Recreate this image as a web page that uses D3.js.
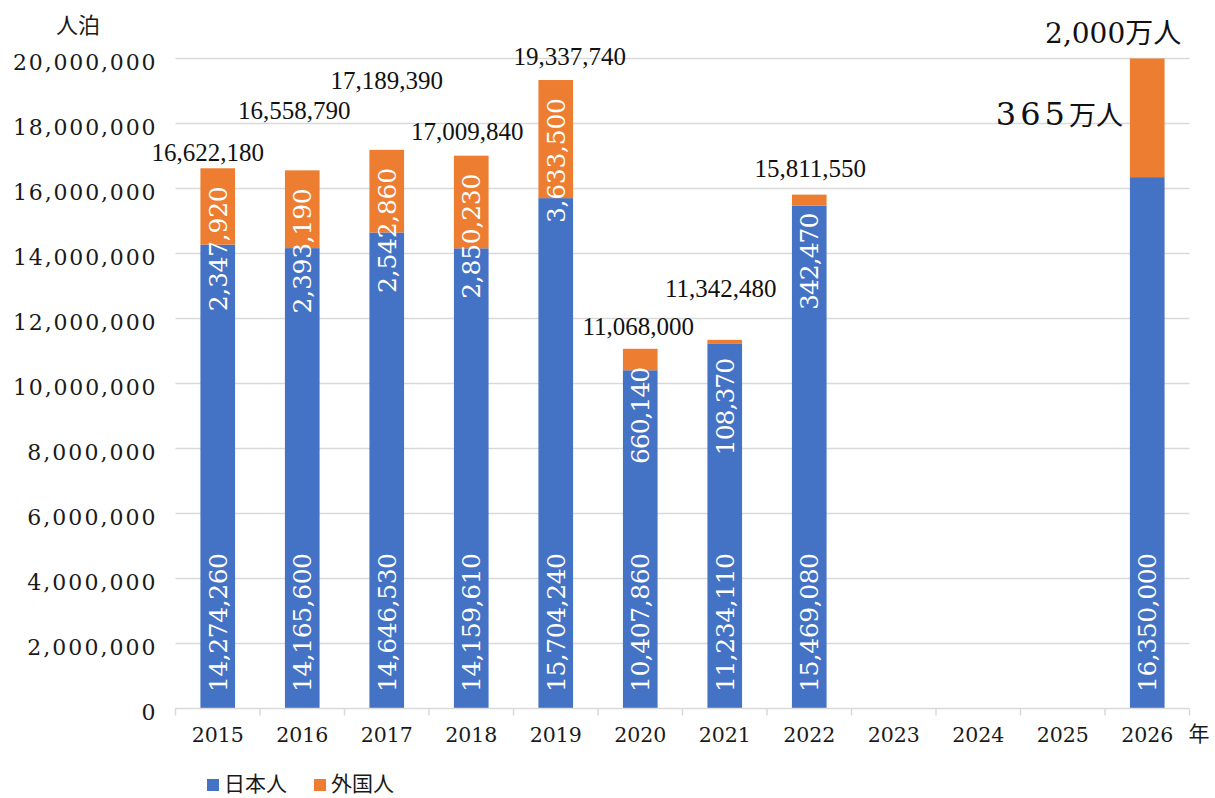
<!DOCTYPE html>
<html>
<head>
<meta charset="utf-8">
<script src="https://cdn.jsdelivr.net/npm/d3@7/dist/d3.min.js"></script>
<style>
  html, body { margin: 0; padding: 0; background: #fff; }
  svg { display: block; }
</style>
</head>
<body>
<svg id="chart" width="1215" height="798"></svg>
<script>
// ---- data ----
const years = ["2015", "2016", "2017", "2018", "2019", "2020", "2021", "2022", "2023", "2024", "2025", "2026"];
const japanese = [14274260, 14165600, 14646530, 14159610, 15704240, 10407860, 11234110, 15469080, null, null, null, 16350000];
const foreign  = [2347920, 2393190, 2542860, 2850230, 3633500, 660140, 108370, 342470, null, null, null, 3650000];
const totalLabels = [16622180, 16558790, 17189390, 17009840, 19337740, 11068000, 11342480, 15811550, null, null, null, null];
const showForeignLabel = [true, true, true, true, true, true, true, true, false, false, false, false];
const yTicks = [0, 2000000, 4000000, 6000000, 8000000, 10000000, 12000000, 14000000, 16000000, 18000000, 20000000];
const targetTotalText = ["2,000", "万人"];
const targetForeignText = ["365", "万人"];
const seriesNames = ["日本人", "外国人"];
const yUnit = "人泊";
const xUnit = "年";

// ---- layout (label nudges for manually placed total labels, px) ----
const totalNudge = [[-10, -7], [-8, -51], [0, -61], [-4, -16], [14, -15.5], [-2, -14], [-4, -43], [1, -18], [0,0],[0,0],[0,0],[0,0]];

const colors = { jp: "#4472C4", fg: "#ED7D31" };
const W = 1215, H = 798;
const m = { left: 175.5, right: 25.5, top: 58.5, bottom: 89.5 };
const svg = d3.select("#chart");
const numFont = "'DejaVu Serif', serif";
const totFont = "'Liberation Serif', 'Times New Roman', serif";
const cjkFont = "'Noto Sans CJK JP', sans-serif";

const x = d3.scaleBand().domain(years).range([m.left, W - m.right]).paddingInner(0.59).paddingOuter(0.295);
const xb = d3.scaleBand().domain(years).range([m.left, W - m.right]); // full category bands
const y = d3.scaleLinear().domain([0, 20000000]).range([H - m.bottom, m.top]);
const fmt = d3.format(",");

// gridlines
svg.append("g").selectAll("line").data(yTicks.filter(d => d > 0)).join("line")
  .attr("x1", m.left).attr("x2", W - m.right)
  .attr("y1", d => y(d)).attr("y2", d => y(d))
  .attr("stroke", "#d9d9d9").attr("stroke-width", 1.5);

// y-axis labels
svg.append("g").selectAll("text").data(yTicks).join("text")
  .attr("x", m.left - 20).attr("y", d => y(d) + 11)
  .attr("text-anchor", "end")
  .attr("font-family", numFont).attr("font-size", 22).attr("fill", "#1a1a1a")
  .attr("textLength", d => fmt(d).length * 14.25).attr("lengthAdjust", "spacing")
  .text(d => fmt(d));

// bars
const data = years.map((yr, i) => ({ yr, i, jp: japanese[i], fg: foreign[i] }));
const g = svg.append("g");
g.selectAll("rect.jp").data(data.filter(d => d.jp != null)).join("rect")
  .attr("class", "jp")
  .attr("x", d => x(d.yr)).attr("width", x.bandwidth())
  .attr("y", d => y(d.jp)).attr("height", d => y(0) - y(d.jp))
  .attr("fill", colors.jp);
g.selectAll("rect.fg").data(data.filter(d => d.fg != null)).join("rect")
  .attr("class", "fg")
  .attr("x", d => x(d.yr)).attr("width", x.bandwidth())
  .attr("y", d => y(d.jp + d.fg)).attr("height", d => y(d.jp) - y(d.jp + d.fg))
  .attr("fill", colors.fg);

// x axis line + ticks
const base = y(0);
svg.append("line").attr("x1", m.left).attr("x2", W - m.right).attr("y1", base).attr("y2", base)
  .attr("stroke", "#d9d9d9").attr("stroke-width", 1.5);
const bounds = years.map(d => xb(d)).concat([W - m.right]);
svg.append("g").selectAll("line").data(bounds).join("line")
  .attr("x1", d => d).attr("x2", d => d).attr("y1", base).attr("y2", base + 7)
  .attr("stroke", "#d9d9d9").attr("stroke-width", 1.5);

// x labels
svg.append("g").selectAll("text").data(years).join("text")
  .attr("x", d => xb(d) + xb.bandwidth() / 2).attr("y", base + 33.5)
  .attr("text-anchor", "middle")
  .attr("font-family", numFont).attr("font-size", 20.5).attr("fill", "#1a1a1a")
  .text(d => d);
svg.append("text").attr("x", W - m.right - 1).attr("y", base + 32.5)
  .attr("font-family", cjkFont).attr("font-size", 21).attr("fill", "#1a1a1a").text(xUnit);

// y unit
svg.append("text").attr("x", 56).attr("y", 33)
  .attr("font-family", cjkFont).attr("font-size", 22).attr("fill", "#1a1a1a").text(yUnit);

// inside labels (rotated)
const cx = d => x(d.yr) + x.bandwidth() / 2;
g.selectAll("text.jpl").data(data.filter(d => d.jp != null)).join("text")
  .attr("class", "jpl")
  .attr("transform", d => `translate(${cx(d) + 9},${base - 16.5}) rotate(-90)`)
  .attr("font-family", numFont).attr("font-size", 25).attr("fill", "#fff")
  .attr("textLength", d => fmt(d.jp).length * 13.9).attr("lengthAdjust", "spacing")
  .text(d => fmt(d.jp));
g.selectAll("text.fgl").data(data.filter(d => d.fg != null && showForeignLabel[d.i])).join("text")
  .attr("class", "fgl")
  .attr("transform", d => `translate(${cx(d) + 9},${y(d.jp + d.fg) + 18}) rotate(-90)`)
  .attr("text-anchor", "end")
  .attr("font-family", numFont).attr("font-size", 25).attr("fill", "#fff")
  .attr("textLength", d => fmt(d.fg).length * 13.9).attr("lengthAdjust", "spacing")
  .text(d => fmt(d.fg));

// total labels
svg.append("g").selectAll("text").data(data.filter(d => totalLabels[d.i] != null)).join("text")
  .attr("x", d => cx(d) + totalNudge[d.i][0])
  .attr("y", d => y(totalLabels[d.i]) + totalNudge[d.i][1])
  .attr("text-anchor", "middle")
  .attr("font-family", totFont).attr("font-size", 25).attr("fill", "#111")
  .text(d => fmt(totalLabels[d.i]));

// 2026 target labels
const last = data[data.length - 1];
const tTotal = svg.append("text")
  .attr("x", cx(last) + 34).attr("y", y(last.jp + last.fg) - 16)
  .attr("text-anchor", "end").attr("fill", "#111");
tTotal.append("tspan").attr("font-family", numFont).attr("font-size", 28).text(targetTotalText[0]);
tTotal.append("tspan").attr("font-family", cjkFont).attr("font-size", 28).text(targetTotalText[1]);

const tFg = svg.append("text")
  .attr("x", x(last.yr) - 7).attr("y", (y(last.jp + last.fg) + y(last.jp)) / 2 + 7)
  .attr("text-anchor", "end").attr("fill", "#111");
tFg.append("tspan").attr("font-family", numFont).attr("font-size", 32).attr("letter-spacing", 4).text(targetForeignText[0]);
tFg.append("tspan").attr("font-family", cjkFont).attr("font-size", 27).text(targetForeignText[1]);

// legend
const leg = svg.append("g");
const legX = [207, 314];
seriesNames.forEach((nm, i) => {
  leg.append("rect").attr("x", legX[i]).attr("y", 779).attr("width", 12).attr("height", 12)
    .attr("fill", i === 0 ? colors.jp : colors.fg);
  leg.append("text").attr("x", legX[i] + 17).attr("y", 791)
    .attr("font-family", cjkFont).attr("font-size", 21).attr("fill", "#1a1a1a").text(nm);
});
</script>
</body>
</html>
